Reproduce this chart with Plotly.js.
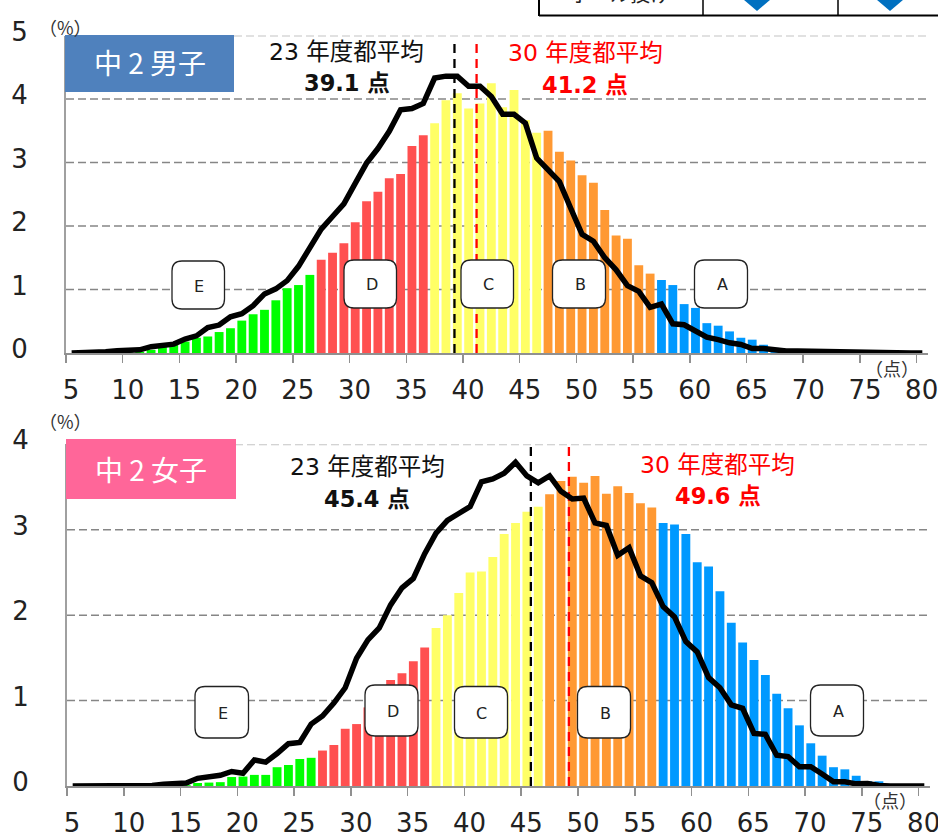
<!DOCTYPE html>
<html>
<head>
<meta charset="utf-8">
<script src="https://cdn.plot.ly/plotly-3.0.1.min.js"></script>
<style>html,body{margin:0;padding:0;background:#fff;overflow:hidden}#c{width:938px;height:832px}</style>
</head>
<body>
<div id="c"></div>
<script>
// score categories: bars sit midway between the integer tick marks
const scores = [5.5,6.5,7.5,8.5,9.5,10.5,11.5,12.5,13.5,14.5,15.5,16.5,17.5,18.5,19.5,20.5,21.5,22.5,23.5,24.5,25.5,26.5,27.5,28.5,29.5,30.5,31.5,32.5,33.5,34.5,35.5,36.5,37.5,38.5,39.5,40.5,41.5,42.5,43.5,44.5,45.5,46.5,47.5,48.5,49.5,50.5,51.5,52.5,53.5,54.5,55.5,56.5,57.5,58.5,59.5,60.5,61.5,62.5,63.5,64.5,65.5,66.5,67.5,68.5,69.5,70.5,71.5,72.5,73.5,74.5,75.5,76.5,77.5,78.5,79.5,80.5];

const boys30 = [0,0,0,0,0,0.01,0.02,0.05,0.10,0.14,0.18,0.24,0.26,0.33,0.39,0.51,0.61,0.68,0.83,1.02,1.07,1.23,1.47,1.58,1.73,2.06,2.39,2.54,2.75,2.82,3.26,3.43,3.62,3.98,4.09,3.85,3.93,4.25,3.87,4.14,3.67,3.47,3.50,3.17,3.03,2.80,2.68,2.25,1.85,1.80,1.38,1.25,1.15,1.07,0.77,0.71,0.47,0.43,0.34,0.24,0.21,0.13,0.08,0.04,0.03,0.02,0.01,0,0,0,0,0,0,0,0,0];
const boys23 = [0,0,0,0.02,0.035,0.035,0.05,0.10,0.125,0.14,0.22,0.27,0.40,0.44,0.57,0.62,0.745,0.93,1.01,1.14,1.365,1.64,1.95,2.15,2.35,2.67,2.99,3.22,3.49,3.83,3.85,3.93,4.33,4.36,4.36,4.20,4.20,4.04,3.76,3.76,3.62,3.07,2.88,2.70,2.28,1.87,1.76,1.50,1.31,1.06,0.97,0.72,0.77,0.46,0.445,0.35,0.25,0.21,0.16,0.135,0.07,0.07,0.04,0.03,0.03,0.025,0.02,0.015,0.01,0.01,0.01,0.01,0.005,0.005,0,0];

const girls30 = [0,0,0,0,0,0,0,0,0,0,0.01,0.035,0.04,0.045,0.105,0.11,0.13,0.13,0.22,0.246,0.316,0.33,0.415,0.48,0.67,0.725,0.92,1.05,1.24,1.32,1.46,1.62,1.85,2.00,2.26,2.50,2.51,2.68,2.95,3.08,3.21,3.27,3.415,3.57,3.62,3.55,3.63,3.42,3.51,3.43,3.31,3.26,3.08,3.06,2.95,2.62,2.57,2.28,1.91,1.68,1.475,1.30,1.08,0.91,0.71,0.50,0.355,0.22,0.195,0.12,0.055,0.055,0.01,0,0,0];
const girls23 = [0,0,0,0.005,0.005,0.005,0.005,0.005,0.02,0.035,0.035,0.09,0.105,0.125,0.17,0.15,0.305,0.28,0.38,0.495,0.51,0.725,0.82,0.97,1.15,1.495,1.71,1.85,2.12,2.32,2.43,2.72,2.96,3.11,3.19,3.27,3.56,3.595,3.66,3.79,3.63,3.55,3.63,3.45,3.36,3.37,3.08,3.05,2.70,2.79,2.46,2.38,2.10,1.98,1.69,1.57,1.27,1.15,0.95,0.91,0.615,0.605,0.36,0.345,0.225,0.225,0.14,0.05,0.05,0.025,0.03,0.005,0,0,0,0];

// grade bands: highest score (exclusive) of each band
const boysBands  = [27,37,47,57,81];
const girlsBands = [27,37,47,57,81];
const bandColors = ['#00ff00','#ff5050','#ffff66','#ff9933','#0099ff'];

const xTickVals = [5,10,15,20,25,30,35,40,45,50,55,60,65,70,75,80];
const xTickText = ['5','10','15','20','25','30','35','40','45','50','55','60','65','70','75','80'];
const boysLevels  = [0,1,2,3,4,5];
const girlsLevels = [0,1,2,3,4];

const boysMeans  = {prev:39.25, cur:41.2, top:4.95};
const girlsMeans = {prev:45.85, cur:49.2, top:4.04};

const W = 938, H = 832;
const px = v => v / W;
const py = v => 1 - v / H;
const FONT = '"DejaVu Sans","Noto Sans CJK JP",sans-serif';
const CJK = '"Noto Sans CJK JP","DejaVu Sans",sans-serif';

function colorsFor(bands){
  return scores.map(s => bandColors[bands.findIndex(b => s < b)]);
}
function roundBox(x0,y0,x1,y1){
  const r = 10;
  const X = v => px(v), Y = v => py(v);
  const path = `M${X(x0+r)},${Y(y0)} L${X(x1-r)},${Y(y0)} Q${X(x1)},${Y(y0)} ${X(x1)},${Y(y0+r)} `+
    `L${X(x1)},${Y(y1-r)} Q${X(x1)},${Y(y1)} ${X(x1-r)},${Y(y1)} L${X(x0+r)},${Y(y1)} `+
    `Q${X(x0)},${Y(y1)} ${X(x0)},${Y(y1-r)} L${X(x0)},${Y(y0+r)} Q${X(x0)},${Y(y0)} ${X(x0+r)},${Y(y0)} Z`;
  return {type:'path',xref:'paper',yref:'paper',path,fillcolor:'#ffffff',line:{color:'#222222',width:1.3},layer:'above'};
}
function rect(x0,y0,x1,y1,c){
  return {type:'rect',xref:'paper',yref:'paper',x0:px(x0),x1:px(x1),y0:py(y0),y1:py(y1),fillcolor:c,line:{width:0},layer:'above'};
}
function seg(x0,y0,x1,y1,c,w){
  return {type:'line',xref:'paper',yref:'paper',x0:px(x0),x1:px(x1),y0:py(y0),y1:py(y1),line:{color:c,width:w},layer:'above'};
}
function diamond(cx,tip,half){
  const path = `M${px(cx)},${py(tip)} L${px(cx+half)},${py(tip-half*0.85)} L${px(cx+half)},${py(-2)} L${px(cx-half)},${py(-2)} L${px(cx-half)},${py(tip-half*0.85)} Z`;
  return {type:'path',xref:'paper',yref:'paper',path,fillcolor:'#0070c0',line:{width:0},layer:'above'};
}
function note(text,x,y,size,color,family){
  return {text,x:px(x),y:py(y),xref:'paper',yref:'paper',xanchor:'center',yanchor:'middle',showarrow:false,
    font:{size,color,family:family||FONT}};
}
function grid(levels,xa,ya){
  return levels.filter(l => l > 0).map((l,i,a) => ({
    type:'line',xref:xa,yref:ya,x0:5,x1:81,y0:l,y1:l,layer:'below',
    line:{color:i === a.length-1 ? '#c4c4c4' : '#868686',width:i === a.length-1 ? 2 : 1.5,dash:'8px,4px'}
  }));
}
function meanTrace(x,top,color,xa,ya){
  return {type:'scatter',mode:'lines',x:[x,x],y:[0,top],xaxis:xa,yaxis:ya,hoverinfo:'skip',
    line:{color,width:2.3,dash:'9px,6px'},showlegend:false};
}

const data = [
  {type:'bar',x:scores,y:boys30,width:0.78,marker:{color:colorsFor(boysBands),line:{width:0}},xaxis:'x',yaxis:'y',showlegend:false},
  meanTrace(boysMeans.prev,boysMeans.top,'#000000','x','y'),
  meanTrace(boysMeans.cur,boysMeans.top,'#ff0000','x','y'),
  {type:'scatter',mode:'lines',x:scores,y:boys23,xaxis:'x',yaxis:'y',line:{color:'#000000',width:5.5},showlegend:false},
  {type:'bar',x:scores,y:girls30,width:0.78,marker:{color:colorsFor(girlsBands),line:{width:0}},xaxis:'x2',yaxis:'y2',showlegend:false},
  meanTrace(girlsMeans.prev,girlsMeans.top,'#000000','x2','y2'),
  meanTrace(girlsMeans.cur,girlsMeans.top,'#ff0000','x2','y2'),
  {type:'scatter',mode:'lines',x:scores,y:girls23,xaxis:'x2',yaxis:'y2',line:{color:'#000000',width:5.5},showlegend:false}
];

function xAxis(d0,d1,anchor){
  return {domain:[px(d0),px(d1)],range:[5,81],anchor,tickmode:'array',tickvals:xTickVals,ticktext:xTickText,
    ticks:'outside',ticklen:8,tickwidth:1.5,tickcolor:'#909090',showline:true,linecolor:'#909090',linewidth:2,
    showgrid:false,zeroline:false,ticklabelshift:5,ticklabelstandoff:5,ticklabeloverflow:'allow',
    tickfont:{family:FONT,size:26,color:'#222222'}};
}
function yAxis(top,bot,rmax,levels,anchor){
  return {domain:[py(bot),py(top)],range:[0,rmax],anchor,tickmode:'array',tickvals:levels,ticktext:levels.map(String),
    ticks:'',showline:true,linecolor:'#a0a0a0',linewidth:2,showgrid:false,zeroline:false,
    ticklabelstandoff:31,ticklabelshift:-4,ticklabeloverflow:'allow',tickfont:{family:FONT,size:26,color:'#222222'}};
}

const layout = {
  width:W,height:H,margin:{l:0,r:0,t:0,b:0},paper_bgcolor:'#ffffff',plot_bgcolor:'#ffffff',
  showlegend:false,barmode:'overlay',hovermode:false,
  xaxis:xAxis(66,928,'y'),yaxis:yAxis(35.5,353,5,boysLevels,'x'),
  xaxis2:xAxis(67,930,'y2'),yaxis2:yAxis(444.3,786,4,girlsLevels,'x2'),
  shapes:[
    ...grid(boysLevels,'x','y'),
    ...grid(girlsLevels,'x2','y2'),
    rect(65,35,234,92,'#4f81bd'),
    rect(66,439,236,499,'#ff6699'),
    roundBox(172,261,224.5,309),roundBox(344,260,396.5,308),roundBox(461,260,513.5,308),
    roundBox(552.5,260,605.5,308),roundBox(694.5,260,747.5,308),
    roundBox(195,686.5,248.5,738),roundBox(365,685,418,736),roundBox(454.5,686.5,507.5,738),
    roundBox(577.5,686.5,630.5,738),roundBox(810.5,685,863.5,736),
    seg(539,-3,539,16,'#000000',2),seg(539,15.5,940,15.5,'#000000',2),
    seg(703,-3,703,16,'#000000',1.5),seg(838,-3,838,16,'#000000',1.5),
    diamond(757,11,13),diamond(890,11,13)
  ],
  annotations:[
    note('ボール投げ',620,-6,20,'#222222',CJK),
    note('中 2 男子',150,62,28,'#ffffff',CJK),
    note('中 2 女子',151,469,28,'#ffffff',CJK),
    note('（%）',65,27,18,'#333333',CJK),
    note('（%）',65.5,420.5,18,'#333333',CJK),
    note('（点）',892,368,18,'#333333',CJK),
    note('（点）',890,800,18,'#333333',CJK),
    note('23 年度都平均',346,52,23.5,'#111111'),
    note('<b>39.1 点</b>',346.5,83.5,22.5,'#111111'),
    note('30 年度都平均',585,53,23.5,'#ff0000'),
    note('<b>41.2 点</b>',584.5,85,22.5,'#ff0000'),
    note('23 年度都平均',367,466.5,23.5,'#111111'),
    note('<b>45.4 点</b>',367,499,22.5,'#111111'),
    note('30 年度都平均',717.5,465,23.5,'#ff0000'),
    note('<b>49.6 点</b>',717.5,496,22.5,'#ff0000'),
    note('E',198.5,286,16,'#222222'),note('D',372,285,16,'#222222'),note('C',488.5,285,16,'#222222'),
    note('B',580,285,16,'#222222'),note('A',722.5,285,16,'#222222'),
    note('E',222.5,713,16,'#222222'),note('D',393,711,16,'#222222'),note('C',481.5,713,16,'#222222'),
    note('B',605,713,16,'#222222'),note('A',838.5,711,16,'#222222')
  ]
};

Plotly.newPlot('c',data,layout,{displayModeBar:false,staticPlot:true});
</script>
</body>
</html>
